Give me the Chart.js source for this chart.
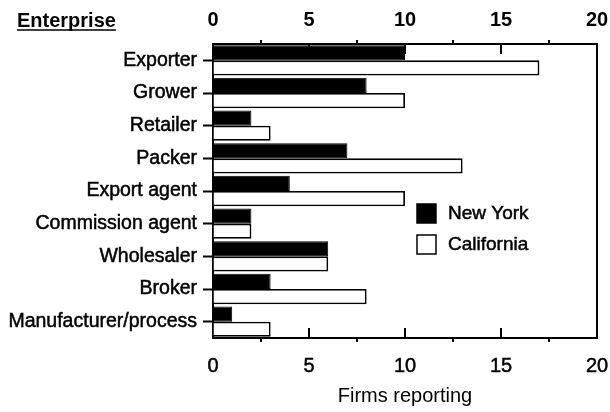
<!DOCTYPE html>
<html>
<head>
<meta charset="utf-8">
<script src="https://cdn.jsdelivr.net/npm/chart.js@4.4.0/dist/chart.umd.min.js"></script>
<style>
	html, body { margin: 0; padding: 0; background: #fff; }
</style>
</head>
<body>
<canvas id="chart" width="610" height="412"></canvas>
<script>
	'use strict';

	// Data
	const categories = ['Exporter', 'Grower', 'Retailer', 'Packer', 'Export agent',
		'Commission agent', 'Wholesaler', 'Broker', 'Manufacturer/process'];
	const newYork = [10, 8, 2, 7, 4, 2, 6, 3, 1];
	const california = [17, 10, 3, 13, 10, 2, 6, 8, 3];
	const xTicks = [0, 5, 10, 15, 20];
	const majorTicks = [5, 10, 15];
	const minorTicks = [2.5, 7.5, 12.5, 17.5];

	const FONT = '"Liberation Sans", Arial, sans-serif';
	Chart.defaults.font.family = FONT;
	Chart.defaults.color = '#000';

	function setTicks(scale) {
		scale.ticks = xTicks.map(function(v){ return { value: v }; });
	}

	function line(ctx, x1, y1, x2, y2) {
		ctx.beginPath();
		ctx.moveTo(x1, y1);
		ctx.lineTo(x2, y2);
		ctx.stroke();
	}

	// frame tick marks, header and legend box
	const extras = {
		id: 'extras',
		afterDraw: function(chart) {
			const ctx = chart.ctx;
			const a = chart.chartArea;
			const xs = chart.scales.x;
			ctx.save();
			ctx.strokeStyle = '#000';
			ctx.lineWidth = 2;
			majorTicks.forEach(function(v){
				const px = xs.getPixelForValue(v);
				line(ctx, px, a.bottom, px, a.bottom - 10);
				line(ctx, px, a.top, px, a.top + 10);
			});
			minorTicks.forEach(function(v){
				const px = xs.getPixelForValue(v);
				line(ctx, px, a.bottom, px, a.bottom + 4);
				line(ctx, px, a.top, px, a.top - 4);
			});

			// "Enterprise" header, underlined
			ctx.fillStyle = '#000';
			ctx.font = 'bold 20px ' + FONT;
			ctx.textBaseline = 'middle';
			ctx.textAlign = 'left';
			ctx.fillText('Enterprise', 17, 21);
			const w = ctx.measureText('Enterprise').width;
			ctx.lineWidth = 1.5;
			line(ctx, 17, 30, 17 + w, 30);

			// legend inside the plot
			ctx.font = '19px ' + FONT;
			chart.data.datasets.forEach(function(ds, i){
				const bx = a.left + 204;
				const by = a.top + 169 + i * 31;
				ctx.fillStyle = ds.backgroundColor;
				ctx.fillRect(bx, by - 9, 19, 19);
				ctx.lineWidth = 1.5;
				ctx.strokeRect(bx, by - 9, 19, 19);
				ctx.fillStyle = '#000';
				ctx.lineWidth = 0.5;
				ctx.fillText(ds.label, bx + 31, by + 1);
				ctx.strokeText(ds.label, bx + 31, by + 1);
			});
			ctx.restore();
		}
	};

	function fixHeight(h) {
		return function(s){
			s.height = h;
			s.paddingLeft = 0;
			s.paddingRight = 0;
		};
	}

	new Chart(document.getElementById('chart').getContext('2d'), {
		type: 'bar',
		data: {
			labels: categories,
			datasets: [{
				label: 'New York',
				data: newYork,
				backgroundColor: '#000',
				borderColor: '#000',
				borderWidth: 1
			}, {
				label: 'California',
				data: california,
				backgroundColor: '#fff',
				borderColor: '#000',
				borderWidth: 1.8
			}]
		},
		options: {
			indexAxis: 'y',
			responsive: false,
			animation: false,
			datasets: { bar: { categoryPercentage: 0.93, barPercentage: 1 } },
			layout: { padding: { left: 0, right: 13, top: 0, bottom: 0 } },
			plugins: {
				legend: { display: false },
				tooltip: { enabled: false }
			},
			scales: {
				x: {
					type: 'linear', position: 'bottom', min: 0, max: 20,
					afterBuildTicks: setTicks,
					ticks: { font: { size: 20 }, padding: 16, maxRotation: 0, textStrokeColor: '#000', textStrokeWidth: 0.5 },
					grid: { drawOnChartArea: false, drawTicks: false },
					border: { color: '#000', width: 2 },
					title: { display: true, text: 'Firms reporting', font: { size: 20 }, padding: { top: 0, bottom: 4 } },
					afterFit: fixHeight(74)
				},
				xTop: {
					type: 'linear', position: 'top', min: 0, max: 20,
					afterBuildTicks: setTicks,
					ticks: { font: { size: 20, weight: 'bold' }, padding: 12, maxRotation: 0 },
					grid: { drawOnChartArea: false, drawTicks: false },
					border: { color: '#000', width: 2 },
					afterFit: fixHeight(44)
				},
				y: {
					type: 'category', position: 'left',
					ticks: { font: { size: 19.5 }, padding: 6, textStrokeColor: '#000', textStrokeWidth: 0.5 },
					grid: { offset: false, drawOnChartArea: false, tickLength: 10, tickColor: '#000', tickWidth: 2 },
					border: { color: '#000', width: 2 },
					afterFit: function(s){ s.width = 213; s.paddingTop = 0; s.paddingBottom = 0; }
				},
				yRight: {
					type: 'category', position: 'right', labels: categories,
					ticks: { display: false },
					grid: { drawOnChartArea: false, drawTicks: false },
					border: { color: '#000', width: 2 },
					afterFit: function(s){ s.width = 0; }
				}
			}
		},
		plugins: [extras]
	});
</script>
</body>
</html>
